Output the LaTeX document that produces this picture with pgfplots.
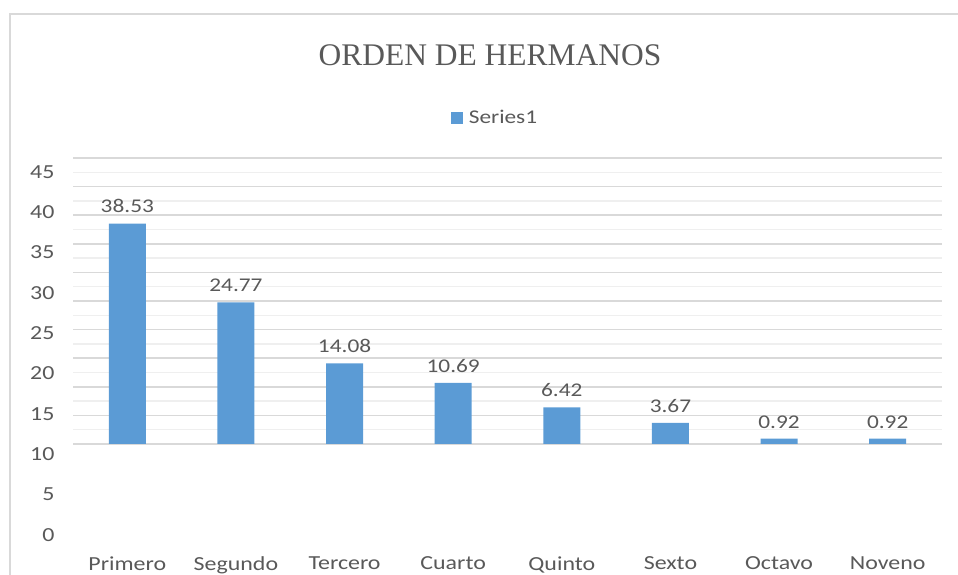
\documentclass[border=0pt]{standalone}
\usepackage{pgfplots}
\pgfplotsset{compat=1.18}
\usepackage{fontspec}
\setmainfont{Carlito}[FakeStretch=1.2]
\newfontfamily\titlefont{Liberation Serif}
\definecolor{barblue}{HTML}{5B9BD5}
\definecolor{txt}{HTML}{595959}
\definecolor{gridc}{HTML}{D9D9D9}
\definecolor{gridm}{HTML}{EFEFEF}
\begin{document}
\begin{tikzpicture}[x=1bp,y=1bp]
\useasboundingbox (0,0) rectangle (958,575);
\draw[gridc, line width=2bp] (10,0) -- (10,561) -- (958,561);
\node[font=\titlefont\fontsize{31.6}{36}\selectfont, text=txt] at (490,520) {ORDEN DE HERMANOS};
% bars on their own scale, base at the 0 gridline
\begin{axis}[at={(73bp,40bp)}, anchor=south west, scale only axis, width=869bp, height=377bp,
  xmin=-0.5, xmax=7.5, ymin=-15.91, ymax=50,
  ybar, bar width=37bp,
  axis line style={draw=none}, xtick=\empty,
  ytick={0,5,...,50}, yticklabels={}, major tick length=0pt, minor tick length=0pt,
  minor ytick={2.5,7.5,...,47.5},
  ymajorgrids, yminorgrids,
  major grid style={gridc, line width=1.5bp},
  minor grid style={gridm, line width=1.5bp},
  /pgf/number format/assume math mode=true,
  nodes near coords={\pgfmathprintnumber[fixed,precision=2,fixed zerofill,assume math mode=true]{\pgfplotspointmeta}},
  every node near coord/.append style={font=\fontsize{19.5}{22}\selectfont, text=txt, yshift=7bp},
  legend style={at={(0.4856,1.106)}, anchor=center, draw=none, fill=none, font=\fontsize{19.5}{22}\selectfont, text=txt},
  legend image code/.code={\fill[barblue] (0bp,-6bp) rectangle (12bp,6bp); \path (16bp,0bp);},
  ]
\addplot[fill=barblue, draw=none] coordinates {(0,38.53) (1,24.77) (2,14.08) (3,10.69) (4,6.42) (5,3.67) (6,0.92) (7,0.92)};
\legend{Series1}
\end{axis}
% visible value axis and category labels
\begin{axis}[at={(73bp,40bp)}, anchor=south west, scale only axis, width=869bp, height=377bp,
  xmin=-0.5, xmax=7.5, ymin=0, ymax=46.7,
  ytick={0,5,...,45}, xtick={0,...,7},
  xticklabels={Primero,Segundo,Tercero,Cuarto,Quinto,Sexto,Octavo,Noveno},
  axis line style={draw=none}, major tick length=0pt,
  tick label style={font=\fontsize{20}{22}\selectfont, text=txt},
  xticklabel style={yshift=-18bp},
  yticklabel style={xshift=-15bp},
  /pgf/number format/assume math mode=true]
\end{axis}
\end{tikzpicture}
\end{document}
